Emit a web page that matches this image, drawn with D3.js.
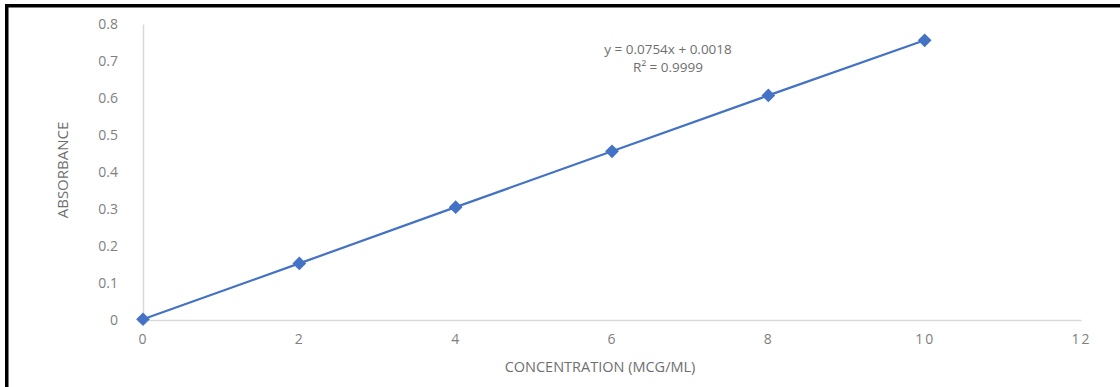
<!DOCTYPE html>
<html>
<head>
<meta charset="utf-8">
<script src="https://cdn.jsdelivr.net/npm/d3@7"></script>
<style>
  body { margin: 0; background: #fff; }
  text { font-family: 'Open Sans', 'Liberation Sans', sans-serif; }
</style>
</head>
<body>
<div class="canvas"></div>
<script>
// Data
const concentration = [0, 2, 4, 6, 8, 10]
const absorbance = [0.002, 0.153, 0.305, 0.456, 0.607, 0.756]
const xTicks = [0, 2, 4, 6, 8, 10, 12]
const yTicks = [0, 0.1, 0.2, 0.3, 0.4, 0.5, 0.6, 0.7, 0.8]
const equationLines = ['y = 0.0754x + 0.0018', 'R² = 0.9999']

const width = 1120
const height = 387

const svg = d3.select('.canvas')
  .append('svg')
    .attr('width', width)
    .attr('height', height)

// Frame (top and left black border)
svg.append('rect')
  .attr('x', 5).attr('y', 4)
  .attr('width', width).attr('height', 3.5)
  .attr('fill', '#000')
svg.append('rect')
  .attr('x', 5).attr('y', 4)
  .attr('width', 3.5).attr('height', height)
  .attr('fill', '#000')

// Scales
const x = d3.scaleLinear().domain([0, 12]).range([143, 1081])
const y = d3.scaleLinear().domain([0, 0.8]).range([320, 24])

// Axes
const xAxis = d3.axisBottom(x).tickValues(xTicks).tickSize(0).tickPadding(14)
const yAxis = d3.axisLeft(y).tickValues(yTicks).tickSize(0).tickPadding(25)
  .tickFormat(d => d === 0 ? '0' : d3.format('.1f')(d))

const xAxisGroup = svg.append('g')
  .attr('transform', `translate(0, ${y(0)})`)
  .call(xAxis)
xAxisGroup.select('.domain').attr('stroke', '#d9d9d9').attr('stroke-width', 1.5)
xAxisGroup.selectAll('text')
  .attr('fill', '#7f7f7f')
  .attr('font-size', 14)
  .attr('letter-spacing', 2)

const yAxisGroup = svg.append('g')
  .attr('transform', `translate(${x(0)}, 0)`)
  .call(yAxis)
yAxisGroup.select('.domain').attr('stroke', '#d9d9d9').attr('stroke-width', 1.5)
yAxisGroup.selectAll('text')
  .attr('fill', '#7f7f7f')
  .attr('font-size', 14)

// Axis titles
svg.append('text')
  .attr('x', 600).attr('y', 372)
  .attr('text-anchor', 'middle')
  .attr('fill', '#6f6f6f')
  .attr('font-size', 14.5)
  .text('CONCENTRATION (MCG/ML)')

svg.append('text')
  .attr('transform', 'translate(68, 170) rotate(-90)')
  .attr('text-anchor', 'middle')
  .attr('fill', '#6f6f6f')
  .attr('font-size', 15)
  .attr('font-family', "'Liberation Sans Narrow', 'DejaVu Sans Condensed', sans-serif")
  .text('ABSORBANCE')

// Line + markers
const points = concentration.map((c, i) => ({c, a: absorbance[i]}))
const line = d3.line().x(d => x(d.c)).y(d => y(d.a))

svg.append('path')
  .datum(points)
  .attr('d', line)
  .attr('fill', 'none')
  .attr('stroke', '#4472c4')
  .attr('stroke-width', 2.2)

svg.selectAll('.marker')
  .data(points)
  .enter()
  .append('path')
    .attr('class', 'marker')
    .attr('d', d3.symbol(d3.symbolDiamond2, 120))
    .attr('transform', d => `translate(${x(d.c)}, ${y(d.a)})`)
    .attr('fill', '#4472c4')

// Trendline equation
svg.selectAll('.eq')
  .data(equationLines)
  .enter()
  .append('text')
    .attr('class', 'eq')
    .attr('x', 668)
    .attr('y', (d, i) => 54 + i * 18)
    .attr('text-anchor', 'middle')
    .attr('fill', '#6f6f6f')
    .attr('font-size', 13.5)
    .text(d => d)
</script>
</body>
</html>
